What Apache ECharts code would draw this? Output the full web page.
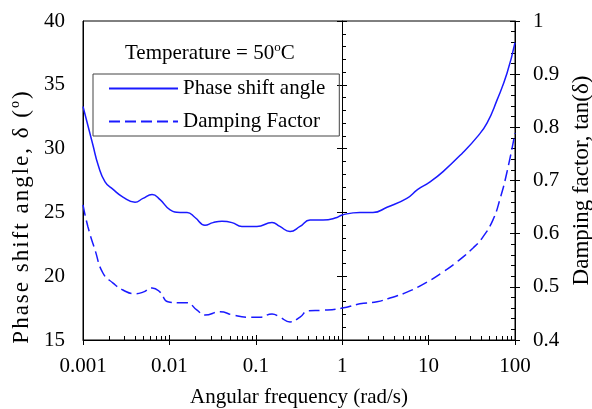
<!DOCTYPE html>
<html>
<head>
<meta charset="utf-8">
<script src="https://cdn.jsdelivr.net/npm/echarts@6/dist/echarts.min.js"></script>
<style>
  html, body { margin: 0; padding: 0; background: #fff; }
  #chart { width: 592px; height: 409px; }
</style>
</head>
<body>
<div id="chart"></div>
<script>
// angular frequency (rad/s) vs phase shift angle (deg)
var phaseFreq = [0.001, 0.0013, 0.0015, 0.0018, 0.00223, 0.0029, 0.004, 0.00495, 0.0063, 0.0078,
  0.0102, 0.0133, 0.016, 0.0198, 0.0258, 0.032, 0.0406, 0.053, 0.069, 0.103,
  0.154, 0.19, 0.249, 0.325, 0.424, 0.6, 0.87, 1, 1.6, 2.27,
  3.3, 5.6, 7.5, 10.4, 14.7, 25, 36.3, 47.4, 61.9, 80.8, 100];
var phaseAngle = [33.3, 30.3, 28.7, 27.4, 26.8, 26.2, 25.8, 26.1, 26.4, 26.0,
  25.2, 25.0, 25.0, 24.6, 24.0, 24.2, 24.3, 24.2, 23.9, 23.9,
  24.2, 23.9, 23.5, 23.9, 24.4, 24.4, 24.6, 24.8, 25.0, 25.0,
  25.4, 26.1, 26.8, 27.4, 28.2, 29.7, 30.9, 32.0, 33.8, 35.9, 38.3];

// angular frequency vs damping factor tan(delta)
var dampFreq = [0.001, 0.00114, 0.00138, 0.0017, 0.00223, 0.0029, 0.004, 0.00495, 0.0063, 0.0078,
  0.0096, 0.0133, 0.016, 0.0209, 0.0258, 0.0386, 0.0544, 0.079, 0.112, 0.154,
  0.19, 0.249, 0.325, 0.402, 0.6, 1, 1.6, 2.53, 3.57, 5.62,
  9.6, 14.7, 21.3, 32.7, 42.6, 55.6, 67, 80.8, 100];
var dampFactor = [0.654, 0.613, 0.569, 0.526, 0.507, 0.494, 0.487, 0.490, 0.498, 0.490,
  0.472, 0.470, 0.470, 0.456, 0.447, 0.453, 0.447, 0.443, 0.443, 0.449,
  0.443, 0.434, 0.443, 0.455, 0.456, 0.460, 0.468, 0.472, 0.479, 0.490,
  0.509, 0.528, 0.547, 0.573, 0.594, 0.626, 0.665, 0.716, 0.789];

var seriesNames = ['Phase shift angle', 'Damping Factor'];

// log minor tick positions 2..9 per decade
var minorTicks = [];
for (var d = -3; d <= 1; d++) {
  for (var m = 2; m <= 9; m++) minorTicks.push([m * Math.pow(10, d), 15]);
}

var FONT = 'Liberation Serif';
var BLUE = '#1a1aff';
var txt = { fontFamily: FONT, fontSize: 21, color: '#000', fontWeight: 'normal' };
var supRich = {
  a: { fontFamily: FONT, fontSize: 21, color: '#000', fontWeight: 'normal', lineHeight: 24 },
  s: { fontFamily: FONT, fontSize: 13, color: '#000', fontWeight: 'normal', verticalAlign: 'top', lineHeight: 14 }
};

// left axis title is set a little larger and looser in the original
var spacedRich = {
  c: { fontFamily: FONT, fontSize: 23, color: '#000', lineHeight: 26, padding: [0, 2, 0, 0] },
  s: { fontFamily: FONT, fontSize: 14, color: '#000', verticalAlign: 'top', lineHeight: 15, padding: [0, 2, 0, 0] },
  e: { fontFamily: FONT, fontSize: 23, color: '#000', lineHeight: 26 }
};
function spaced(str, supAt) {
  var out = '';
  for (var i = 0; i < str.length; i++) {
    var key = i === supAt ? 's' : (i === str.length - 1 ? 'e' : 'c');
    out += '{' + key + '|' + str.charAt(i) + '}';
  }
  return out;
}
var leftTitle = 'Phase shift angle, δ (o)';

function zip(a, b) {
  return a.map(function (v, i) { return [v, b[i]]; });
}

var chart = echarts.init(document.getElementById('chart'));

chart.setOption({
  animation: false,
  backgroundColor: '#fff',
  title: {
    text: '{a|Temperature = 50}{s|o}{a|C}',
    left: 125,
    top: 41,
    padding: 0,
    textStyle: { fontWeight: 'normal', rich: supRich }
  },
  legend: {
    data: seriesNames,
    orient: 'vertical',
    left: 93,
    top: 74,
    itemWidth: 69,
    itemHeight: 14,
    itemGap: 12,
    padding: [4, 14, 4, 15],
    borderColor: '#444',
    borderWidth: 1,
    itemStyle: { color: 'transparent', opacity: 0, borderWidth: 0 },
    textStyle: txt
  },
  grid: {
    left: 83, right: 77, top: 21, bottom: 69,
    outerBoundsMode: 'none',
    containLabel: false,
    show: true, borderColor: '#000', borderWidth: 1
  },
  xAxis: [{
    type: 'log', logBase: 10, min: 0.001, max: 100,
    name: 'Angular frequency (rad/s)',
    nameLocation: 'middle', nameGap: 47,
    nameTextStyle: txt,
    axisLine: { lineStyle: { color: '#000' } },
    axisTick: { inside: false, length: 5, lineStyle: { color: '#000' } },
    axisLabel: Object.assign({ margin: 16 }, txt),
    splitLine: { show: false }
  }, {
    type: 'log', logBase: 10, min: 0.001, max: 100, position: 'bottom',
    axisLine: { show: false },
    axisTick: { inside: true, length: 5, lineStyle: { color: '#000' } },
    axisLabel: { show: false },
    splitLine: { show: false }
  }],
  yAxis: [{
    type: 'value', position: 'left', min: 15, max: 40, interval: 5,
    name: spaced(leftTitle, leftTitle.length - 2),
    nameLocation: 'middle', nameRotate: 90, nameGap: 48,
    nameTextStyle: { rich: spacedRich, padding: [0, 74, 0, 0] },
    axisLine: { show: true, lineStyle: { color: '#000' } },
    axisTick: { show: false },
    axisLabel: Object.assign({ margin: 18 }, txt),
    splitLine: { show: false }
  }, {
    type: 'value', position: 'right', min: 0.4, max: 1, interval: 0.1,
    name: 'Damping factor, tan(δ)',
    nameLocation: 'middle', nameRotate: 90, nameGap: 55,
    nameTextStyle: Object.assign({}, txt, { fontSize: 23 }),
    axisLine: { show: true, lineStyle: { color: '#000' } },
    axisTick: { inside: true, length: 5, lineStyle: { color: '#000' } },
    minorTick: { show: true, splitNumber: 5, length: 4, lineStyle: { color: '#000' } },
    axisLabel: Object.assign({ margin: 18 }, txt),
    splitLine: { show: false }
  }, {
    type: 'value', position: 'right', min: 0.4, max: 1, interval: 0.1,
    axisLine: { show: false },
    axisTick: { inside: false, length: 5, lineStyle: { color: '#000' } },
    axisLabel: { show: false },
    splitLine: { show: false }
  }, {
    // divider at 1 rad/s carrying the left scale ticks
    type: 'value', position: 'left', offset: -259, min: 15, max: 40, interval: 5,
    axisLine: { show: true, lineStyle: { color: '#000' } },
    axisTick: { inside: true, length: 5, lineStyle: { color: '#000' } },
    minorTick: { show: true, splitNumber: 5, length: 4, lineStyle: { color: '#000' } },
    axisLabel: { show: false },
    splitLine: { show: false }
  }, {
    type: 'value', position: 'left', offset: -259, min: 15, max: 40, interval: 5,
    axisLine: { show: false },
    axisTick: { inside: false, length: 5, lineStyle: { color: '#000' } },
    axisLabel: { show: false },
    splitLine: { show: false }
  }],
  series: [{
    name: seriesNames[0],
    type: 'line',
    xAxisIndex: 0, yAxisIndex: 0,
    data: zip(phaseFreq, phaseAngle),
    smooth: 0.5,
    symbol: 'none',
    lineStyle: { color: BLUE, width: 1.5 },
    itemStyle: { color: BLUE }
  }, {
    name: seriesNames[1],
    type: 'line',
    xAxisIndex: 0, yAxisIndex: 1,
    data: zip(dampFreq, dampFactor),
    smooth: 0.5,
    symbol: 'none',
    lineStyle: { color: BLUE, width: 1.5, type: [11, 5] },
    itemStyle: { color: BLUE }
  }, {
    type: 'custom',
    xAxisIndex: 0, yAxisIndex: 0,
    silent: true,
    data: minorTicks,
    renderItem: function (params, api) {
      var p = api.coord([api.value(0), api.value(1)]);
      var x = Math.round(p[0]) + 0.5;
      var y = Math.round(p[1]);
      return {
        type: 'line',
        shape: { x1: x, y1: y, x2: x, y2: y - 4 },
        style: { stroke: '#000', lineWidth: 1 }
      };
    },
    z: 5
  }]
});
</script>
</body>
</html>
